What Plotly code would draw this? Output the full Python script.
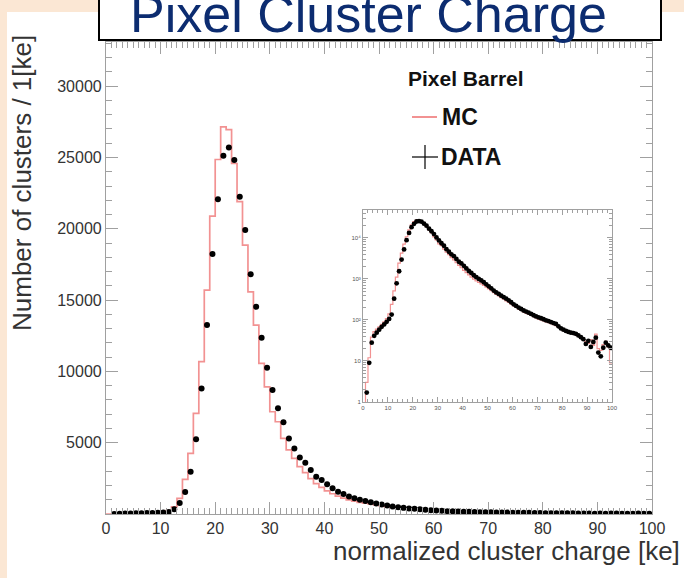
import plotly.graph_objects as go

# ---- histogram contents: 100 bins of 1 ke between 0 and 100 ke ----
bin_edges = list(range(0, 101))

data_counts = [
    0, 1.7, 9, 28, 41, 49, 58, 68, 78, 90,
    106, 135, 330, 780, 1540, 2960, 5250, 8800, 13250, 18230,
    22080, 25120, 25700, 24820, 22240, 19910, 16820, 14530, 12360, 10260,
    8690, 7410, 6430, 5300, 4600, 3970, 3600, 3080, 2620, 2380,
    2080, 1800, 1560, 1400, 1230, 1100, 1000, 920, 830, 740,
    660, 590, 520, 470, 430, 390, 360, 330, 300, 270,
    240, 220, 200, 185, 170, 160, 150, 140, 130, 122,
    115, 110, 104, 98, 94, 89, 84, 80, 70, 62,
    58, 54, 51, 49, 48, 46, 42, 38, 34, 26,
    31, 22, 29, 37, 16, 13, 21, 28, 24, 21,
]

mc_counts = [
    0, 3, 12, 38, 52, 60, 68, 78, 90, 108,
    140, 240, 510, 1100, 2430, 4250, 7060, 10680, 15700, 20890,
    24860, 27150, 26950, 24580, 21900, 18860, 15580, 13250, 10560, 8920,
    7170, 6470, 5300, 4490, 3900, 3320, 2900, 2480, 2130, 1870,
    1620, 1420, 1250, 1110, 990, 900, 820, 760, 700, 630,
    570, 515, 465, 420, 385, 350, 320, 292, 268, 244,
    220, 202, 184, 170, 157, 147, 138, 129, 120, 112,
    105, 100, 95, 90, 86, 81, 77, 73, 66, 59,
    55, 52, 49, 47, 45, 43, 40, 36, 33, 30,
    27, 33, 24, 45, 20, 18, 25, 30, 22, 9,
]

x_ticks_main = [0, 10, 20, 30, 40, 50, 60, 70, 80, 90, 100]
y_ticks_main = [5000, 10000, 15000, 20000, 25000, 30000]
y_ticks_inset = [1, 10, 100, 1000, 10000]
y_ticktext_inset = ["1", "10", "10²", "10³", "10⁴"]

# ---- page geometry (pixels) ----
W, H = 684, 578


def px(x):
    return x / W


def py(y):
    return 1 - y / H


PEACH = "#FBE7D4"
MC_RED = "#F29292"
AXIS_GREY = "#a0a0a0"
TEXT = "#333333"
FONT = "Liberation Sans, Arial, sans-serif"

centers = [e + 0.5 for e in bin_edges[:-1]]
mc_step = mc_counts + [mc_counts[-1]]
data_pts = [v if v > 0 else None for v in data_counts]
# zero bins sit below the log range so the step drops to the floor
mc_step_log = [v if v > 0 else 0.1 for v in mc_step]

fig = go.Figure()

# main linear panel
fig.add_trace(go.Scatter(
    x=bin_edges, y=mc_step, mode="lines", name="MC",
    line=dict(shape="hv", color=MC_RED, width=1.7),
    xaxis="x", yaxis="y", showlegend=False,
))
fig.add_trace(go.Scatter(
    x=centers, y=data_pts, mode="markers", name="DATA",
    marker=dict(symbol="circle", size=6, color="black"),
    xaxis="x", yaxis="y", showlegend=False,
))

# inset log panel
fig.add_trace(go.Scatter(
    x=bin_edges, y=mc_step_log, mode="lines",
    line=dict(shape="hv", color=MC_RED, width=1.2),
    xaxis="x2", yaxis="y2", showlegend=False,
))
fig.add_trace(go.Scatter(
    x=centers, y=data_pts, mode="markers",
    marker=dict(symbol="circle", size=4.8, color="black"),
    xaxis="x2", yaxis="y2", showlegend=False,
))

main_axis = dict(
    showline=True, linecolor=AXIS_GREY, linewidth=1.2, mirror="ticks",
    ticks="inside", tickcolor=AXIS_GREY, tickwidth=1.2,
    showgrid=False, zeroline=False, automargin=False,
    tickfont=dict(family=FONT, size=16, color=TEXT),
)

inset_minor_y = [m * 10 ** k for k in range(0, 5) for m in range(2, 10)]

fig.update_layout(
    width=W, height=H,
    margin=dict(l=0, r=0, t=0, b=0, pad=0, autoexpand=False),
    paper_bgcolor=PEACH,
    plot_bgcolor="white",
    showlegend=False,
    xaxis=dict(
        main_axis, domain=[px(106), px(652)], anchor="y",
        range=[0, 100], tickmode="array", tickvals=x_ticks_main, ticklen=12,
        minor=dict(ticks="inside", dtick=1, tick0=0, ticklen=6,
                   tickcolor=AXIS_GREY, tickwidth=1),
    ),
    yaxis=dict(
        main_axis, domain=[py(514), py(42)], anchor="x",
        range=[0, 33100], tickmode="array", tickvals=y_ticks_main,
        tickformat="d", ticklen=12,
        minor=dict(ticks="inside", dtick=1000, tick0=0, ticklen=6,
                   tickcolor=AXIS_GREY, tickwidth=1),
    ),
    xaxis2=dict(
        showline=True, linecolor=AXIS_GREY, linewidth=1, mirror="ticks",
        ticks="inside", tickcolor=AXIS_GREY, ticklen=5, tickwidth=1,
        showgrid=False, zeroline=False, automargin=False,
        domain=[px(363), px(612)], anchor="y2", range=[0, 100],
        tickmode="array", tickvals=x_ticks_main,
        minor=dict(ticks="inside", dtick=2, tick0=0, ticklen=3,
                   tickcolor=AXIS_GREY),
        tickfont=dict(family=FONT, size=6, color="#555"),
    ),
    yaxis2=dict(
        type="log", showline=True, linecolor=AXIS_GREY, linewidth=1,
        mirror="ticks", ticks="inside", tickcolor=AXIS_GREY, ticklen=5,
        tickwidth=1, showgrid=False, zeroline=False, automargin=False,
        domain=[py(402), py(210)], anchor="x2", range=[0, 4.68],
        tickmode="array", tickvals=y_ticks_inset, ticktext=y_ticktext_inset,
        minor=dict(ticks="inside", tickmode="array", tickvals=inset_minor_y,
                   ticklen=3, tickcolor=AXIS_GREY),
        tickfont=dict(family=FONT, size=6, color="#555"),
    ),
)

shapes = [
    # white slide panel
    dict(type="rect", xref="paper", yref="paper", layer="below",
         x0=px(7), x1=1.0, y0=0.0, y1=py(12),
         fillcolor="white", line=dict(width=0)),
    # title box
    dict(type="rect", xref="paper", yref="paper", layer="above",
         x0=px(99), x1=px(661), y0=py(40), y1=1.2,
         fillcolor="white", line=dict(color="black", width=2)),
    # legend: MC line
    dict(type="line", xref="paper", yref="paper",
         x0=px(412), x1=px(437), y0=py(117), y1=py(117),
         line=dict(color=MC_RED, width=2)),
    # legend: DATA cross
    dict(type="line", xref="paper", yref="paper",
         x0=px(412), x1=px(438), y0=py(157), y1=py(157),
         line=dict(color="black", width=1.2)),
    dict(type="line", xref="paper", yref="paper",
         x0=px(425), x1=px(425), y0=py(145), y1=py(169),
         line=dict(color="black", width=1.2)),
]
fig.update_layout(shapes=shapes)

annotations = [
    dict(text="Pixel Cluster Charge", x=px(368), y=py(14),
         xanchor="center", yanchor="middle", showarrow=False,
         font=dict(family=FONT, size=52, color="#0C2C70")),
    dict(text="<b>Pixel Barrel</b>", x=px(406), y=py(78),
         xanchor="left", yanchor="middle", showarrow=False,
         font=dict(family=FONT, size=21, color="#111")),
    dict(text="<b>MC</b>", x=px(440), y=py(117),
         xanchor="left", yanchor="middle", showarrow=False,
         font=dict(family=FONT, size=23, color="#111")),
    dict(text="<b>DATA</b>", x=px(439), y=py(157),
         xanchor="left", yanchor="middle", showarrow=False,
         font=dict(family=FONT, size=23, color="#111")),
    dict(text="normalized cluster charge [ke]", x=px(682), y=py(551),
         xanchor="right", yanchor="middle", showarrow=False,
         font=dict(family=FONT, size=26, color=TEXT)),
    dict(text="Number of clusters / 1[ke]", x=px(22), y=py(33),
         xanchor="center", yanchor="top", textangle=-90, showarrow=False,
         font=dict(family=FONT, size=26, color=TEXT)),
]
for a in annotations:
    a.update(xref="paper", yref="paper")
fig.update_layout(annotations=annotations)

fig.write_html("out.html")
